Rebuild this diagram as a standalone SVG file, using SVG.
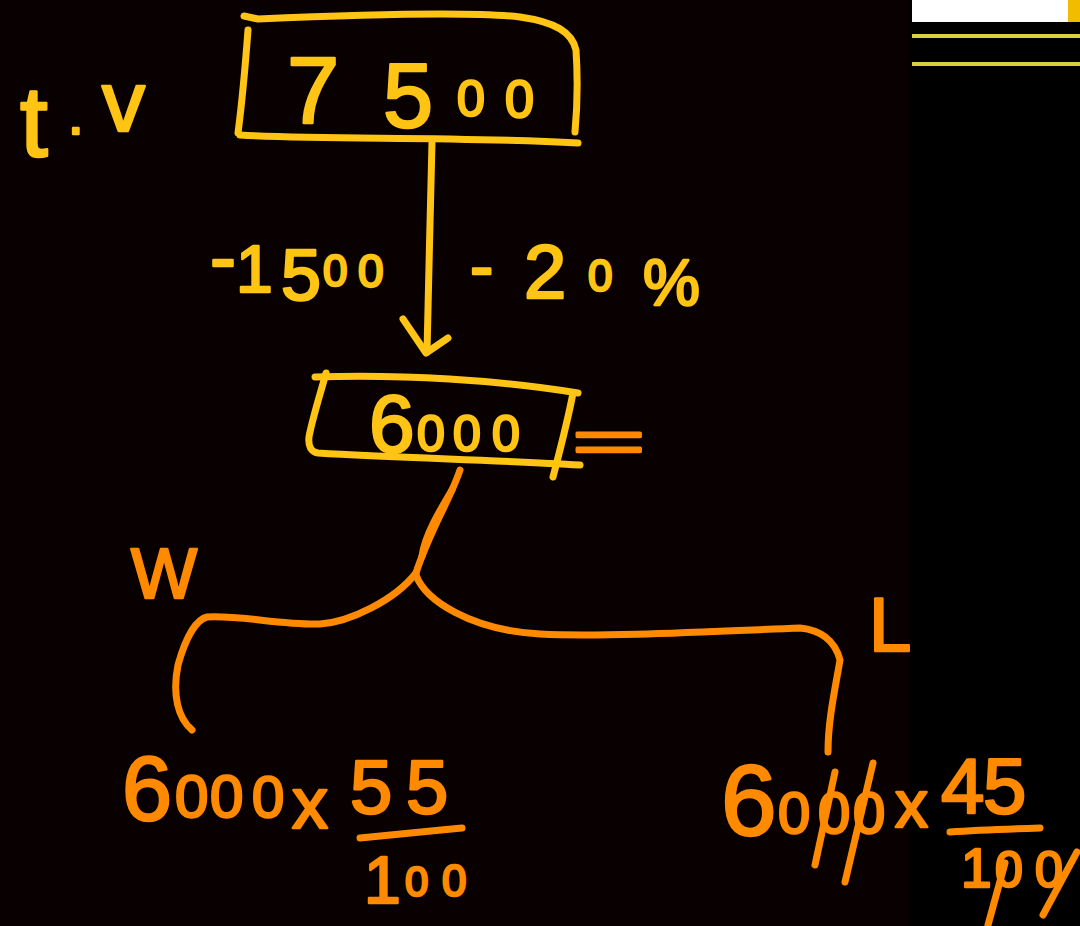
<svg xmlns="http://www.w3.org/2000/svg" width="1080" height="926" viewBox="0 0 1080 926">
<style>
.y{fill:#FFC414;stroke:#FFC414;stroke-width:2.5;stroke-linejoin:round;font-family:"Liberation Sans",Arial,sans-serif}
.o{fill:#FF8A00;stroke:#FF8A00;stroke-width:2.5;stroke-linejoin:round;font-family:"Liberation Sans",Arial,sans-serif}
.ly{fill:none;stroke:#FFC414;stroke-width:7;stroke-linecap:round;stroke-linejoin:round}
.lo{fill:none;stroke:#FF8A00;stroke-width:7;stroke-linecap:round;stroke-linejoin:round}
</style>
<rect x="0" y="0" width="1080" height="926" fill="#000"/>
<rect x="0" y="0" width="910" height="926" fill="#090101"/>
<g id="toolbar">
<rect x="912" y="0" width="156" height="22" fill="#fff"/>
<rect x="1068" y="0" width="12" height="22" fill="#F2BC00"/>
<rect x="912" y="34" width="168" height="4" fill="#d9d13c"/>
<rect x="912" y="62" width="168" height="4" fill="#d9d13c"/>
</g>
<g id="label-tv">
<text class="y"><tspan x="20" y="156" font-size="100">t</tspan><tspan x="68" y="134" font-size="56">.</tspan><tspan x="102" y="131" font-size="86">v</tspan></text>
</g>
<g id="node-7500">
<path class="ly" d="M244,16 L258,19 C350,15 470,11 520,17 C555,22 572,32 576,50 C578,80 577,110 575,132"/>
<path class="ly" d="M248,30 C245,70 241,110 238,133"/>
<path class="ly" d="M240,135 C330,140 450,136 578,143"/>
<text class="y"><tspan x="287" y="123" font-size="94">7</tspan><tspan x="383" y="127" font-size="90">5</tspan><tspan x="457" y="116" font-size="50">0</tspan><tspan x="505" y="117" font-size="52">0</tspan></text>
</g>
<g id="connectors">
<path class="ly" d="M432,142 C431,200 428,290 427,352"/>
<path class="ly" d="M403,319 L426,353 L448,338"/>
<path class="lo" d="M460,470 C450,500 430,530 416,573"/>
<path class="lo" d="M452,490 C440,510 425,535 422,556" stroke-width="11"/>
<path class="lo" d="M416,573 C395,600 350,622 320,624 C280,625 240,615 207,617 C195,620 185,640 178,665 C172,695 178,718 192,730"/>
<path class="lo" d="M416,575 C425,600 470,630 540,634 C600,637 700,632 800,628 C820,630 835,640 840,660 C835,690 828,720 828,752"/>
</g>
<g id="labels-edge">
<text class="y"><tspan x="210" y="284" font-size="78">-</tspan><tspan x="236" y="292" font-size="66">1</tspan><tspan x="281" y="300" font-size="72">5</tspan><tspan x="323" y="286" font-size="44">0</tspan><tspan x="358" y="287" font-size="46">0</tspan></text>
<text class="y"><tspan x="470" y="290" font-size="70">-</tspan><tspan x="524" y="298" font-size="76">2</tspan><tspan x="588" y="291" font-size="44">0</tspan><tspan x="643" y="305" font-size="64">%</tspan></text>
</g>
<g id="node-6000">
<path class="ly" d="M315,377 C400,374 500,380 578,393"/>
<path class="ly" d="M326,373 C320,395 312,420 309,437 C308,446 311,452 318,453 C400,458 500,460 580,465"/>
<path class="ly" d="M573,393 C568,420 560,450 553,477"/>
<text class="y"><tspan x="369" y="452" font-size="82">6</tspan><tspan x="417" y="451" font-size="50">0</tspan><tspan x="453" y="451" font-size="50">0</tspan><tspan x="492" y="451" font-size="50">0</tspan></text>
<text class="o" transform="translate(572,462) scale(2.1,1)" font-size="60" stroke-width="3">=</text>
</g>
<g id="label-w">
<text class="o" x="131" y="598" font-size="70">W</text>
</g>
<g id="label-l">
<text class="o" x="869" y="651" font-size="76">L</text>
</g>
<g id="node-w-calc">
<text class="o"><tspan x="122" y="820" font-size="90">6</tspan><tspan x="175" y="817" font-size="60">0</tspan><tspan x="210" y="817" font-size="60">0</tspan><tspan x="252" y="817" font-size="58">0</tspan><tspan x="292" y="828" font-size="72">x</tspan><tspan x="350" y="813" font-size="76">5</tspan><tspan x="406" y="813" font-size="76">5</tspan></text>
<path class="lo" d="M360,838 C400,834 430,831 462,828"/>
<text class="o"><tspan x="364" y="903" font-size="66">1</tspan><tspan x="405" y="896" font-size="42">0</tspan><tspan x="442" y="896" font-size="44">0</tspan></text>
</g>
<g id="node-l-calc">
<text class="o"><tspan x="721" y="835" font-size="100">6</tspan><tspan x="778" y="833" font-size="58">0</tspan><tspan x="818" y="833" font-size="58">0</tspan><tspan x="853" y="833" font-size="58">0</tspan><tspan x="895" y="827" font-size="66">x</tspan><tspan x="941" y="813" font-size="78">4</tspan><tspan x="983" y="813" font-size="78">5</tspan></text>
<path class="lo" d="M835,772 L815,865"/>
<path class="lo" d="M873,763 L845,882"/>
<path class="lo" d="M950,832 C980,830 1010,829 1040,828"/>
<text class="o"><tspan x="961" y="887" font-size="55">1</tspan><tspan x="995" y="887" font-size="50">0</tspan><tspan x="1035" y="887" font-size="50">0</tspan></text>
<path class="lo" d="M1005,863 L988,925"/>
<path class="lo" d="M1077,852 L1043,915"/>
</g>
</svg>
